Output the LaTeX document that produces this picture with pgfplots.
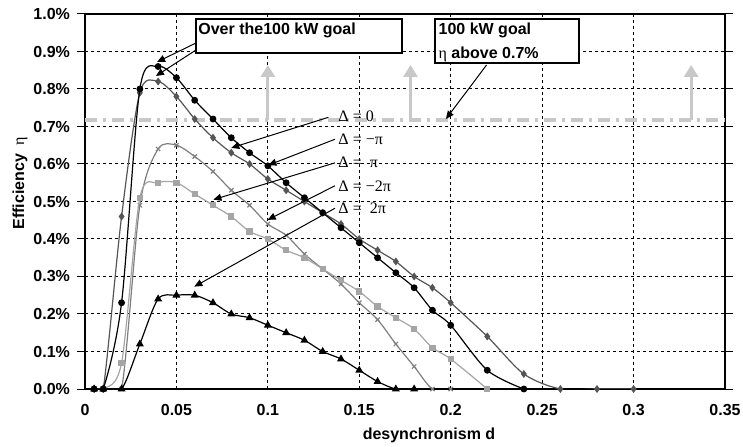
\documentclass[border=0pt]{standalone}
\usepackage{fontspec}
\setmainfont{Liberation Sans}
\newfontfamily\serif{Liberation Serif}
\usepackage{pgfplots}
\pgfplotsset{compat=1.18}
\usetikzlibrary{arrows.meta,calc}

\definecolor{cdiam}{HTML}{555555}
\definecolor{ccross}{HTML}{7F7F7F}
\definecolor{csq}{HTML}{A5A5A5}
\definecolor{cgoal}{HTML}{C8C8C8}

\newcommand{\lbl}{\fontsize{8bp}{9.6bp}\selectfont\bfseries}
\newcommand{\dl}{\fontsize{8bp}{9.6bp}\selectfont\serif}

\begin{document}
\begin{tikzpicture}
\begin{axis}[
    name=ax,
    scale only axis,
    width=320bp, height=187.5bp,
    xmin=0, xmax=0.35, ymin=0, ymax=1,
    xtick={0,0.05,0.1,0.15,0.2,0.25,0.3,0.35},
    xticklabels={0,0.05,0.1,0.15,0.2,0.25,0.3,0.35},
    ytick={0,0.1,0.2,0.3,0.4,0.5,0.6,0.7,0.8,0.9,1.0},
    yticklabels={0.0\%,0.1\%,0.2\%,0.3\%,0.4\%,0.5\%,0.6\%,0.7\%,0.8\%,0.9\%,1.0\%},
    ticklabel style={font=\lbl},
    xmajorgrids, ymajorgrids,
    grid style={black, line width=0.5bp, dash pattern=on 1.5bp off 1.5bp},
    axis line style={black, line width=0.6bp},
    tick align=outside,
    ytick style={black, line width=0.5bp},
    major tick length=4bp,
    xtick style={draw=none},
    xlabel={desynchronism d},
    ylabel={Efficiency \ {\serif\mdseries η}},
    xlabel style={font=\lbl, at={(rel axis cs:0.5375,0)}, anchor=center, yshift=-23bp},
    ylabel style={font=\lbl, at={(rel axis cs:-0.1016,0.549)}, anchor=center},
    clip mode=individual,
    every axis plot/.append style={smooth, tension=0.5, line width=0.6bp},
]
% goal line
\draw[cgoal, line width=2bp, dash pattern=on 6bp off 3bp on 1.5bp off 3bp]
    (axis cs:0,0.717) -- (axis cs:0.35,0.717);
\draw[cgoal, line width=1.5bp, -{Triangle[length=6bp,width=7bp]}]
    (axis cs:0.1,0.717) -- (axis cs:0.1,0.864);
\draw[cgoal, line width=1.5bp, -{Triangle[length=6bp,width=7bp]}]
    (axis cs:0.178,0.717) -- (axis cs:0.178,0.864);
\draw[cgoal, line width=1.5bp, -{Triangle[length=6bp,width=7bp]}]
    (axis cs:0.3315,0.717) -- (axis cs:0.3315,0.864);

% diamonds
\addplot[cdiam, mark=diamond*, mark size=1.5bp, mark options={fill=cdiam}] coordinates {
(0.005,0) (0.01,0) (0.02,0.46) (0.03,0.79) (0.04,0.82) (0.05,0.78) (0.06,0.72)
(0.07,0.67) (0.08,0.63) (0.09,0.60) (0.1,0.56) (0.11,0.53) (0.12,0.50) (0.13,0.47)
(0.14,0.44) (0.15,0.40) (0.16,0.37) (0.17,0.34) (0.18,0.30) (0.19,0.27) (0.2,0.23)
(0.22,0.14) (0.24,0.04) (0.26,0) (0.28,0) (0.3,0)};
% crosses
\addplot[ccross, mark=x, mark size=1.5bp, mark options={line width=0.6bp}] coordinates {
(0.005,0) (0.01,0) (0.02,0) (0.03,0.49) (0.04,0.64) (0.05,0.65) (0.06,0.62)
(0.07,0.58) (0.08,0.53) (0.09,0.49) (0.1,0.44) (0.11,0.41) (0.12,0.36) (0.13,0.32)
(0.14,0.28) (0.15,0.23) (0.16,0.185) (0.17,0.12) (0.18,0.06) (0.19,0) (0.2,0)};
% squares
\addplot[csq, mark=square*, mark size=1.3bp, mark options={fill=csq}] coordinates {
(0.005,0) (0.01,0) (0.02,0.07) (0.03,0.51) (0.04,0.55) (0.05,0.55) (0.06,0.52)
(0.07,0.49) (0.08,0.46) (0.09,0.42) (0.1,0.40) (0.11,0.37) (0.12,0.35) (0.13,0.32)
(0.14,0.29) (0.15,0.26) (0.16,0.22) (0.17,0.19) (0.18,0.16) (0.19,0.11) (0.2,0.08)
(0.22,0)};
% circles
\addplot[black, mark=*, mark size=1.4bp] coordinates {
(0.005,0) (0.01,0) (0.02,0.23) (0.03,0.80) (0.04,0.86) (0.05,0.83) (0.06,0.77)
(0.07,0.72) (0.08,0.67) (0.09,0.63) (0.1,0.595) (0.11,0.55) (0.12,0.51) (0.13,0.47)
(0.14,0.43) (0.15,0.39) (0.16,0.35) (0.17,0.31) (0.18,0.27) (0.19,0.21) (0.2,0.17)
(0.22,0.05) (0.24,0)};
% triangles
\addplot[black, mark=triangle*, mark size=1.7bp] coordinates {
(0.005,0) (0.01,0) (0.02,0) (0.03,0.12) (0.04,0.24) (0.05,0.25) (0.06,0.25)
(0.07,0.23) (0.08,0.20) (0.09,0.19) (0.1,0.17) (0.11,0.15) (0.12,0.13) (0.13,0.10)
(0.14,0.08) (0.15,0.05) (0.16,0.02) (0.17,0) (0.18,0)};

% callouts
\draw[black, line width=0.5bp, -{Triangle[length=4bp,width=3.5bp]}] (axis cs:0.1331,0.7245) -- (axis cs:0.080,0.643);
\draw[black, line width=0.5bp, -{Triangle[length=4bp,width=3.5bp]}] (axis cs:0.1367,0.666) -- (axis cs:0.1003,0.597);
\draw[black, line width=0.5bp, -{Triangle[length=4bp,width=3.5bp]}] (axis cs:0.1367,0.603) -- (axis cs:0.0702,0.505);
\draw[black, line width=0.5bp, -{Triangle[length=4bp,width=3.5bp]}] (axis cs:0.1367,0.542) -- (axis cs:0.0999,0.451);
\draw[black, line width=0.5bp, -{Triangle[length=4bp,width=3.5bp]}] (axis cs:0.1367,0.482) -- (axis cs:0.0598,0.273);
\node[anchor=west, inner sep=0pt, font=\dl] at (axis cs:0.1384,0.728) {Δ = 0};
\node[anchor=west, inner sep=0pt, font=\dl] at (axis cs:0.1384,0.666) {Δ = −π};
\node[anchor=west, inner sep=0pt, font=\dl] at (axis cs:0.1384,0.6035) {Δ =\ \ π};
\node[anchor=west, inner sep=0pt, font=\dl] at (axis cs:0.1384,0.541) {Δ = −2π};
\node[anchor=west, inner sep=0pt, font=\dl] at (axis cs:0.1384,0.482) {Δ =\ \ 2π};

\draw[fill=white, line width=0.6bp] (axis cs:0.0607,0.9867) rectangle (axis cs:0.1734,0.896);
\node[anchor=west, inner sep=0pt, font=\lbl] at (axis cs:0.0618,0.957) {Over the100 kW goal};
\draw[black, line width=0.5bp, -{Triangle[length=4bp,width=3.5bp]}] (axis cs:0.0607,0.9227) -- (axis cs:0.0394,0.872);
\draw[black, line width=0.5bp, -{Triangle[length=4bp,width=3.5bp]}] (axis cs:0.0607,0.904) -- (axis cs:0.0388,0.8347);

\draw[fill=white, line width=0.6bp] (axis cs:0.1914,0.9867) rectangle (axis cs:0.2702,0.8693);
\node[anchor=west, inner sep=0pt, font=\lbl] at (axis cs:0.1932,0.955) {100 kW goal};
\node[anchor=west, inner sep=0pt, font=\lbl] at (axis cs:0.1932,0.891) {{\serif\mdseries η} above 0.7\%};
\draw[black, line width=0.5bp, -{Triangle[length=4bp,width=3.5bp]}] (axis cs:0.2196,0.864) -- (axis cs:0.1974,0.72);

\coordinate (bl) at (rel axis cs:0,0);
\coordinate (tr) at (rel axis cs:1,1);
\end{axis}
\pgfresetboundingbox
\path ($(bl)+(-42.5bp,-29bp)$) rectangle ($(tr)+(9bp,7bp)$);
\end{tikzpicture}
\end{document}
